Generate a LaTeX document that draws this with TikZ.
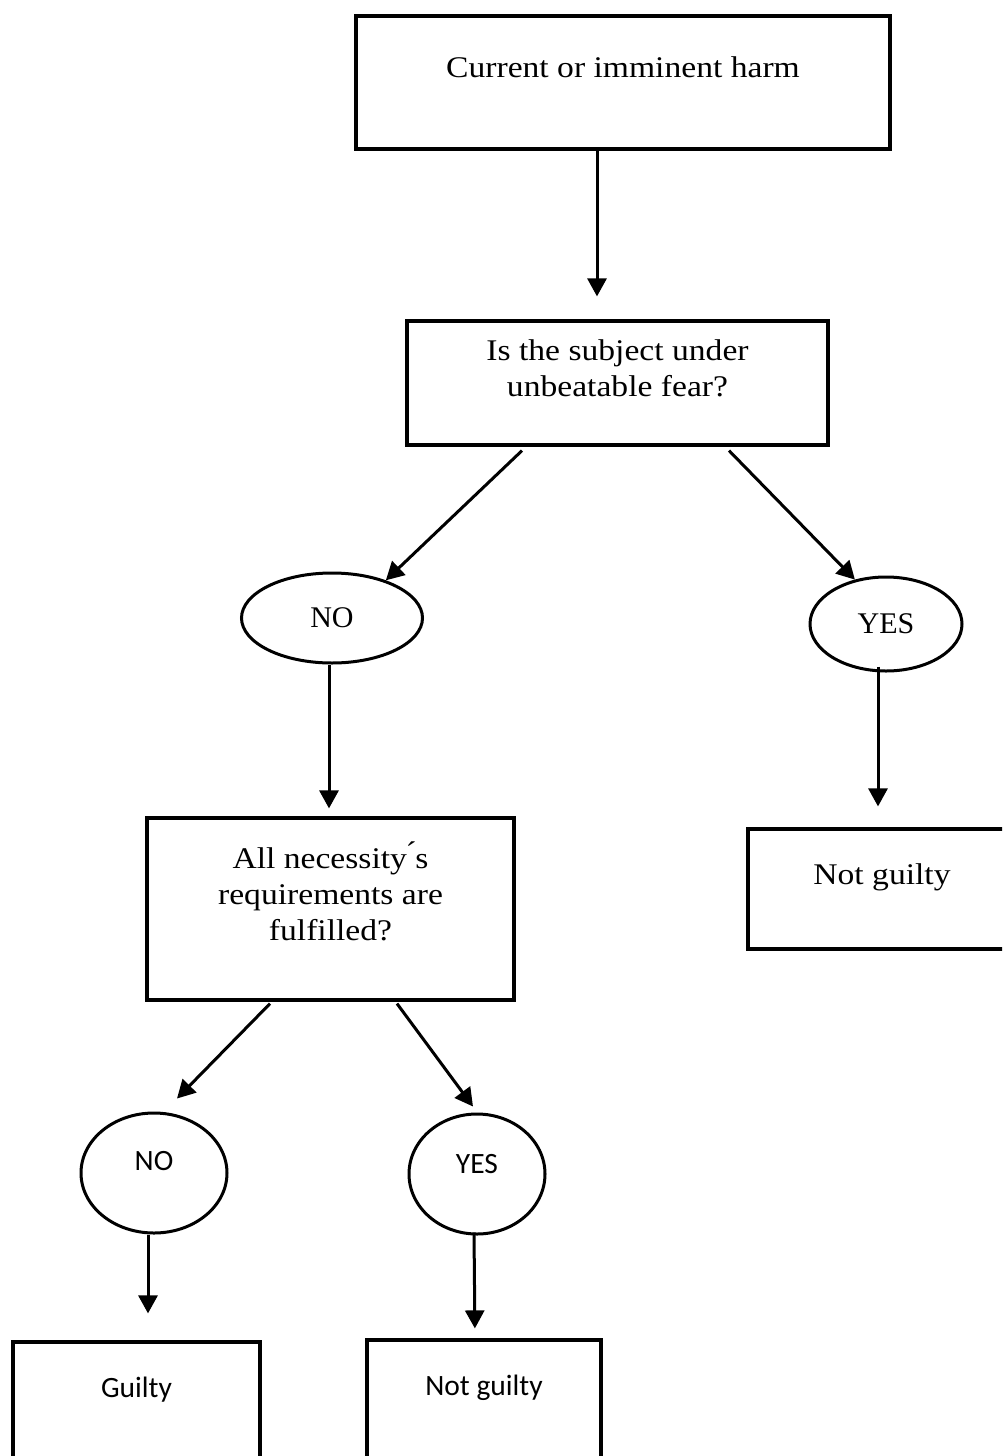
\documentclass[tikz,border=0pt]{standalone}
\usepackage{fontspec}
\setmainfont{Liberation Serif}[FakeStretch=1.12]
\newfontfamily\ovalserif{Liberation Serif}
\newfontfamily\calibri{Carlito}
\usetikzlibrary{shapes.geometric,arrows.meta}
% raise the text in a box without changing its size
\newcommand{\lift}[2][12pt]{\raisebox{#1}[\height][\depth]{\begin{tabular}{@{}c@{}}#2\end{tabular}}}

\begin{document}
\begin{tikzpicture}[x=1pt,y=-1pt,
    box/.style={draw, line width=3.2pt, inner sep=0pt, align=center, font=\fontsize{30}{36}\selectfont},
    sansbox/.style={box, font=\calibri\fontsize{29.5}{36}\selectfont},
    oval/.style={draw, ellipse, line width=3pt, inner sep=0pt, font=\ovalserif\fontsize{30}{36}\selectfont},
    sansoval/.style={oval, font=\calibri\fontsize{29.5}{36}\selectfont},
    arr/.style={line width=3pt, -{Triangle[length=18pt,width=19pt]}}]
    \useasboundingbox (0,0) rectangle (1002,1456);
    \clip (0,0) rectangle (1002,1456);
    % boxes
    \node[box, minimum width=534pt, minimum height=133pt] (harm) at (623,82.5) {\lift{Current or imminent harm}};
    \node[box, minimum width=421pt, minimum height=124pt] (fear) at (617.5,383) {\lift{Is the subject under\\unbeatable fear?}};
    \node[box, minimum width=367pt, minimum height=182pt] (req) at (330.5,909) {\lift{All necessity\'{}s\\requirements are\\fulfilled?}};
    \node[box, minimum width=268pt, minimum height=120pt] (free1) at (882,889) {\lift{Not guilty}};
    \node[sansbox, minimum width=247pt, minimum height=120pt] (guilty) at (136.5,1402) {\lift{Guilty}};
    \node[sansbox, minimum width=234pt, minimum height=120pt] (free2) at (484,1400) {\lift{Not guilty}};
    % answers
    \node[oval, minimum width=181pt, minimum height=90pt] (no1) at (332,618) {NO};
    \node[oval, minimum width=152pt, minimum height=94pt] (yes1) at (886,624) {YES};
    \node[sansoval, minimum width=146pt, minimum height=120pt] (no2) at (154,1173) {\lift[10pt]{NO}};
    \node[sansoval, minimum width=136pt, minimum height=120pt] (yes2) at (477,1174) {\lift[8pt]{YES}};
    % arrows
    \draw[arr, shorten >=23pt] ([xshift=-26pt]harm.south) -- ([xshift=-20.5pt]fear.north);
    \draw[arr] ([xshift=-95.5pt,yshift=-4pt]fear.south) -- (no1.35);
    \draw[arr] ([xshift=111.5pt,yshift=-4pt]fear.south) -- (yes1.125);
    \draw[arr, shorten >=8pt] ([xshift=-3pt]no1.south) -- ([xshift=-1.5pt]req.north);
    \draw[arr, shorten >=21pt] ([xshift=-8pt,yshift=6pt]yes1.south) -- ([xshift=-4pt]free1.north);
    \draw[arr] ([xshift=-60.5pt,yshift=-2pt]req.south) -- ([xshift=23pt,yshift=13pt]no2.north);
    \draw[arr] ([xshift=66.5pt,yshift=-2pt]req.south) -- ([xshift=-4pt,yshift=6pt]yes2.north);
    \draw[arr, shorten >=27pt] ([xshift=-6pt]no2.south) -- ([xshift=11.5pt]guilty.north);
    \draw[arr, shorten >=10pt] ([xshift=-3pt,yshift=3pt]yes2.south) -- ([xshift=-9pt]free2.north);
\end{tikzpicture}
\end{document}
